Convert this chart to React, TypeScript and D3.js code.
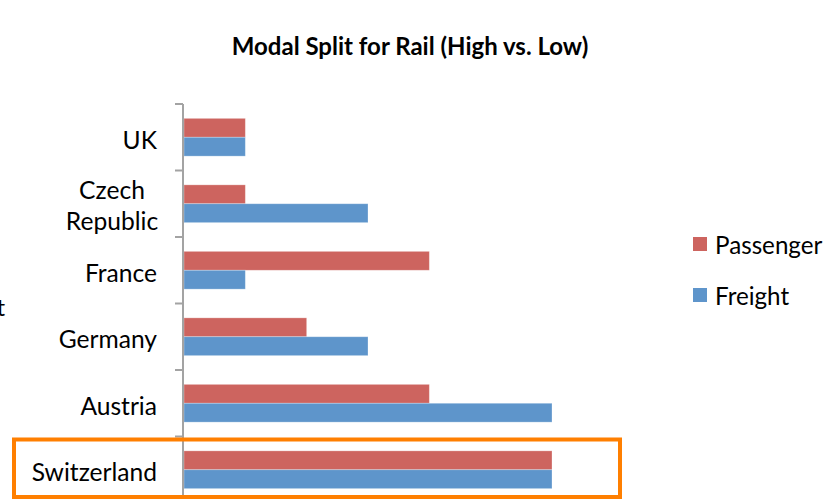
import React from "react";
import * as d3 from "d3";

// Modal split of rail transport per country (rank score, higher = larger rail share)
const countries: string[][] = [
  ["UK"],
  ["Czech", "Republic"],
  ["France"],
  ["Germany"],
  ["Austria"],
  ["Switzerland"],
];
const passenger = [1, 1, 4, 2, 4, 6];
const freight = [1, 3, 1, 3, 6, 6];
const seriesNames = ["Passenger", "Freight"];
const seriesColors = ["#CD645F", "#5E95CB"];
const title = "Modal Split for Rail (High vs. Low)";

const W = 834;
const H = 499;
const FONT = "Lato, 'Open Sans', sans-serif";

export default function App() {
  const keys = countries.map((c) => c.join(" "));
  const y = d3.scaleBand<string>().domain(keys).range([104, 503]).padding(0);
  const x = d3.scaleLinear().domain([0, 6]).range([184, 552]);
  const inner = d3
    .scaleBand<string>()
    .domain(seriesNames)
    .range([0, y.bandwidth()])
    .paddingOuter(0.76)
    .paddingInner(0);

  const values = [passenger, freight];
  const highlight = keys[keys.length - 1];

  return (
    <div style={{ position: "fixed", left: 0, top: 0 }}>
      <svg width={W} height={H} style={{ display: "block", background: "#fff" }}>
        <text
          x={410}
          y={55}
          textAnchor="middle"
          fontFamily={FONT}
          fontWeight={700}
          fontSize={24}
          fill="#000"
        >
          {title}
        </text>

        {/* axis title, mostly outside the drawing area */}
        <text x={5} y={316} textAnchor="end" fontFamily={FONT} fontSize={24} fill="#000">
          t
        </text>

        {/* bars */}
        {keys.map((k, i) =>
          seriesNames.map((s, j) => (
            <rect
              key={k + s}
              x={x(0)}
              y={(y(k) as number) + (inner(s) as number)}
              width={x(values[j][i]) - x(0)}
              height={inner.bandwidth()}
              fill={seriesColors[j]}
              stroke="#ffffff"
              strokeOpacity={0.35}
              strokeWidth={0.8}
            />
          ))
        )}

        {/* category axis */}
        <line x1={183} x2={183} y1={y.range()[0]} y2={y.range()[1]} stroke="#A3A3A3" strokeWidth={2} />
        {keys.map((k) => (
          <line
            key={"t" + k}
            x1={175}
            x2={183}
            y1={y(k) as number}
            y2={y(k) as number}
            stroke="#A3A3A3"
            strokeWidth={2}
          />
        ))}
        {countries.map((lines, i) => {
          const cy = (y(keys[i]) as number) + y.bandwidth() / 2 + 2;
          const lh = 31;
          if (lines.length === 1) {
            return (
              <text
                key={"l" + i}
                x={157}
                y={cy}
                textAnchor="end"
                dominantBaseline="central"
                fontFamily={FONT}
                fontSize={24.6}
                fill="#000"
              >
                {lines[0]}
              </text>
            );
          }
          return (
            <text
              key={"l" + i}
              x={112}
              textAnchor="middle"
              dominantBaseline="central"
              fontFamily={FONT}
              fontSize={24.6}
              fill="#000"
            >
              {lines.map((ln, li) => (
                <tspan key={li} x={112} y={cy - 1 + (li - (lines.length - 1) / 2) * lh}>
                  {ln}
                </tspan>
              ))}
            </text>
          );
        })}

        {/* legend */}
        {seriesNames.map((s, j) => (
          <g key={"lg" + s} transform={`translate(693, ${237 + j * 51})`}>
            <rect x={0} y={0} width={14} height={14} fill={seriesColors[j]} />
            <text
              x={22}
              y={7}
              dominantBaseline="central"
              fontFamily={FONT}
              fontSize={24.2}
              fill="#000"
            >
              {s}
            </text>
          </g>
        ))}

        {/* highlight frame around the top-ranked country */}
        <rect
          x={14}
          y={(y(highlight) as number) + 3}
          width={606}
          height={57.5}
          fill="none"
          stroke="#FF7F00"
          strokeWidth={4}
        />
      </svg>
    </div>
  );
}
